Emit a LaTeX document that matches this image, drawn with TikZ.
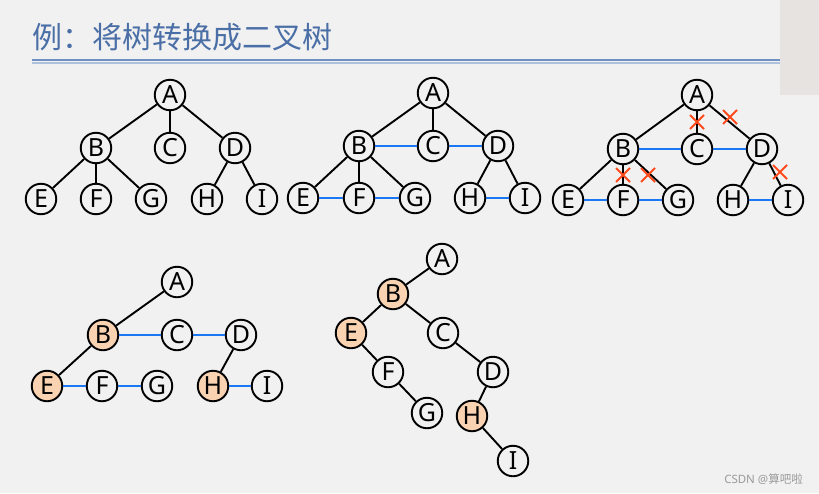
\documentclass[tikz,border=0pt]{standalone}
\usepackage{fontspec}
\setmainfont{Noto Sans}
\newfontfamily\cjk{Noto Sans CJK SC}
\usetikzlibrary{shapes.misc}
\definecolor{bg}{HTML}{F1F1F1}
\definecolor{peach}{HTML}{F9D2B2}
\definecolor{blueline}{HTML}{1A78F5}
\definecolor{crossred}{HTML}{FF4A1C}
\definecolor{titleblue}{HTML}{4A6EA6}
\definecolor{rulea}{HTML}{6F90C0}
\definecolor{ruleb}{HTML}{AFC2DD}
\definecolor{sidegray}{HTML}{E7E3E1}
\definecolor{wm}{HTML}{9A9A9A}
\begin{document}
\begin{tikzpicture}[x=1pt,y=-1pt,
  nd/.style={circle,draw=black,line width=1.9pt,fill=bg,minimum size=30.5pt,inner sep=0pt,font=\fontsize{25}{25}\selectfont},
  hl/.style={nd,fill=peach},
  tr/.style={line width=1.9pt,black},
  sib/.style={line width=1.9pt,blueline},
  xmark/.style={cross out,draw=crossred,line width=2pt,minimum size=12pt,inner sep=0pt}]
\fill[bg] (0,0) rectangle (819,493);
\useasboundingbox (0,0) rectangle (819,493);
\fill[sidegray] (780,0) rectangle (819,95);
% title
\node[anchor=west,text=titleblue,font=\cjk\fontsize{30}{30}\selectfont,inner sep=0pt] (title) at (32,37) {例：将树转换成二叉树};
\draw[rulea,line width=2pt] (32,59.5) -- (780,59.5);
\draw[ruleb,line width=1.2pt] (32,63) -- (780,63);
% tree 1
\node[nd] (a1) at (170,95) {A};
\node[nd] (b1) at (96,148) {B};
\node[nd] (c1) at (170,148) {C};
\node[nd] (d1) at (235,148) {D};
\node[nd] (e1) at (41,199) {E};
\node[nd] (f1) at (96,199) {F};
\node[nd] (g1) at (151,199) {G};
\node[nd] (h1) at (207,199) {H};
\node[nd] (i1) at (262,199) {I};
\draw[tr] (a1)--(b1) (a1)--(c1) (a1)--(d1) (b1)--(e1) (b1)--(f1) (b1)--(g1) (d1)--(h1) (d1)--(i1);
% tree 2
\node[nd] (a2) at (433,93) {A};
\node[nd] (b2) at (359,146) {B};
\node[nd] (c2) at (433,146) {C};
\node[nd] (d2) at (498,146) {D};
\node[nd] (e2) at (303,198) {E};
\node[nd] (f2) at (359,198) {F};
\node[nd] (g2) at (415,198) {G};
\node[nd] (h2) at (470,198) {H};
\node[nd] (i2) at (525,198) {I};
\draw[tr] (a2)--(b2) (a2)--(c2) (a2)--(d2) (b2)--(e2) (b2)--(f2) (b2)--(g2) (d2)--(h2) (d2)--(i2);
\draw[sib] (b2)--(c2) (c2)--(d2) (e2)--(f2) (f2)--(g2) (h2)--(i2);
% tree 3
\node[nd] (a3) at (697,95) {A};
\node[nd] (b3) at (623,149) {B};
\node[nd] (c3) at (697,149) {C};
\node[nd] (d3) at (762,149) {D};
\node[nd] (e3) at (568,200) {E};
\node[nd] (f3) at (623,200) {F};
\node[nd] (g3) at (678,200) {G};
\node[nd] (h3) at (733,200) {H};
\node[nd] (i3) at (788,200) {I};
\draw[tr] (a3)--(b3) (a3)--(c3) (a3)--(d3) (b3)--(e3) (b3)--(f3) (b3)--(g3) (d3)--(h3) (d3)--(i3);
\draw[sib] (b3)--(c3) (c3)--(d3) (e3)--(f3) (f3)--(g3) (h3)--(i3);
\node[xmark] (x1) at (697,122) {};
\node[xmark] (x2) at (730,117) {};
\node[xmark] (x3) at (623,175) {};
\node[xmark] (x4) at (648,175) {};
\node[xmark] (x5) at (780,172) {};
% tree 4
\node[nd] (a4) at (177,282) {A};
\node[hl] (b4) at (103,335) {B};
\node[nd] (c4) at (177,335) {C};
\node[nd] (d4) at (241,335) {D};
\node[hl] (e4) at (47,386) {E};
\node[nd] (f4) at (102,386) {F};
\node[nd] (g4) at (157,386) {G};
\node[hl] (h4) at (213,386) {H};
\node[nd] (i4) at (267,386) {I};
\draw[tr] (a4)--(b4) (b4)--(e4) (d4)--(h4);
\draw[sib] (b4)--(c4) (c4)--(d4) (e4)--(f4) (f4)--(g4) (h4)--(i4);
% tree 5
\node[nd] (a5) at (442,259) {A};
\node[hl] (b5) at (393,294) {B};
\node[hl] (e5) at (351,333) {E};
\node[nd] (c5) at (443,333) {C};
\node[nd] (f5) at (388,372) {F};
\node[nd] (d5) at (493,372) {D};
\node[nd] (g5) at (427,413) {G};
\node[hl] (h5) at (472,416) {H};
\node[nd] (i5) at (513,461) {I};
\draw[tr] (a5)--(b5) (b5)--(e5) (b5)--(c5) (e5)--(f5) (f5)--(g5) (c5)--(d5) (d5)--(h5) (h5)--(i5);
% watermark
\node[anchor=east,text=wm,font=\fontsize{11.5}{11.5}\selectfont,inner sep=0pt] (wmk) at (803,479) {CSDN @{\cjk 算吧啦}};
\end{tikzpicture}
\end{document}
